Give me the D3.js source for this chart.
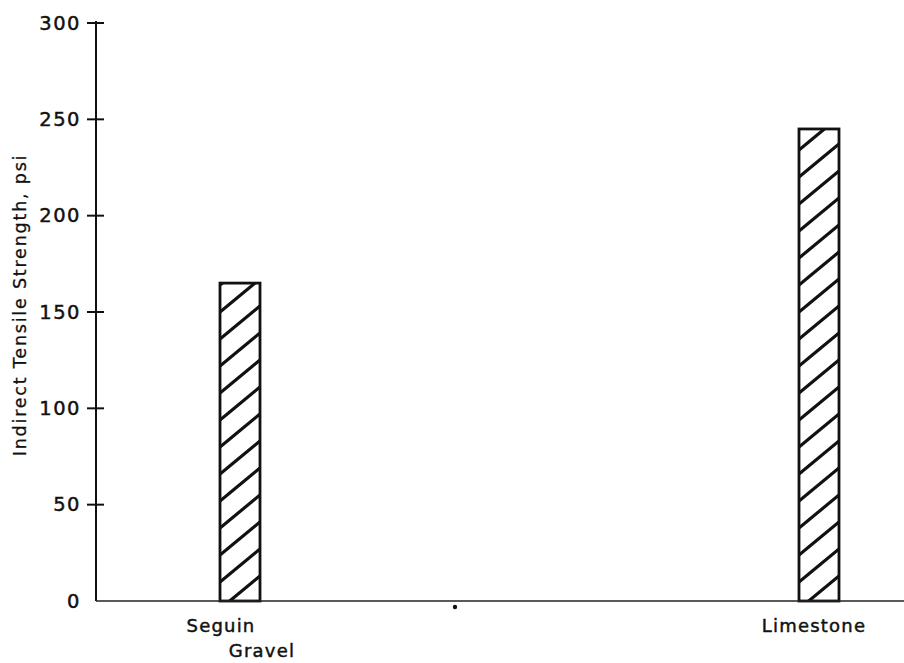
<!DOCTYPE html>
<html>
<head>
<meta charset="utf-8">
<script src="https://cdn.jsdelivr.net/npm/d3@7"></script>
<style>
  html, body { margin: 0; padding: 0; background: #fff; }
  svg { display: block; }
  text { font-family: "DejaVu Sans", sans-serif; fill: #111; stroke: #111; stroke-width: 0.45px; }
</style>
</head>
<body>
<svg id="chart" width="904" height="663"></svg>
<script>
// ---- data ----
const categories = ["Seguin Gravel", "Limestone"];
const categoryLines = [["Seguin", "Gravel"], ["Limestone"]];
const values = [165, 245];
const yTicks = [0, 50, 100, 150, 200, 250, 300];
const yLabel = "Indirect Tensile Strength, psi";

// ---- layout ----
const svg = d3.select("#chart");
const axisX = 96, baseY = 601, topY = 23, rightX = 904;
const barW = 40;

const y = d3.scaleLinear().domain([0, 300]).range([baseY, topY]);
const x = d3.scalePoint().domain(categories).range([240, 819]);

// hatch patterns (one per bar, aligned to the bar's left edge)
const defs = svg.append("defs");
categories.forEach((c, i) => {
  const pat = defs.append("pattern")
    .attr("id", "hatch" + i)
    .attr("patternUnits", "userSpaceOnUse")
    .attr("width", barW).attr("height", 27)
    .attr("x", x(c) - barW / 2).attr("y", baseY);
  [-54, -27, 0, 27].forEach(off => {
    pat.append("line")
      .attr("x1", 0).attr("y1", off + 35)
      .attr("x2", barW).attr("y2", off + 2)
      .attr("stroke", "#111").attr("stroke-width", 3.2);
  });
});

// bars
svg.append("g").selectAll("rect.bar")
  .data(values)
  .join("rect")
  .attr("class", "bar")
  .attr("x", (d, i) => x(categories[i]) - barW / 2)
  .attr("y", d => y(d))
  .attr("width", barW)
  .attr("height", d => baseY - y(d))
  .attr("fill", (d, i) => `url(#hatch${i})`)
  .attr("stroke", "#111")
  .attr("stroke-width", 2.8);

// y axis
const yAxis = d3.axisLeft(y).tickValues(yTicks).tickSize(0).tickPadding(15);
const gy = svg.append("g").attr("transform", `translate(${axisX},0)`).call(yAxis);
gy.select(".domain").remove();
gy.selectAll("text")
  .style("font-size", "19.5px")
  .style("letter-spacing", "1.5px")
  .attr("fill", "#111");
svg.append("line")
  .attr("x1", axisX).attr("x2", axisX)
  .attr("y1", y(300) - 2).attr("y2", baseY)
  .attr("stroke", "#111").attr("stroke-width", 2);
svg.append("g").selectAll("line")
  .data(yTicks.filter(t => t > 0))
  .join("line")
  .attr("x1", axisX - 9).attr("x2", axisX + 8)
  .attr("y1", d => y(d)).attr("y2", d => y(d))
  .attr("stroke", "#111").attr("stroke-width", 2);

// baseline
svg.append("line")
  .attr("x1", axisX).attr("x2", rightX)
  .attr("y1", baseY).attr("y2", baseY)
  .attr("stroke", "#222").attr("stroke-width", 1.6);

// small dot
svg.append("circle").attr("cx", 455).attr("cy", 607).attr("r", 2.2).attr("fill", "#111");

// category labels
const offsets = [[-19, 22], [-5]];
categoryLines.forEach((lines, i) => {
  lines.forEach((ln, j) => {
    svg.append("text")
      .attr("x", x(categories[i]) + offsets[i][j])
      .attr("y", 632 + j * 25)
      .attr("text-anchor", "middle")
      .style("font-size", "18px")
      .style("letter-spacing", "1.2px")
      .text(ln);
  });
});

// y label
svg.append("text")
  .attr("transform", `translate(26,305) rotate(-90)`)
  .attr("text-anchor", "middle")
  .style("font-size", "17.5px")
  .style("letter-spacing", "1.8px")
  .style("stroke-width", "0.3px")
  .text(yLabel);
</script>
</body>
</html>
